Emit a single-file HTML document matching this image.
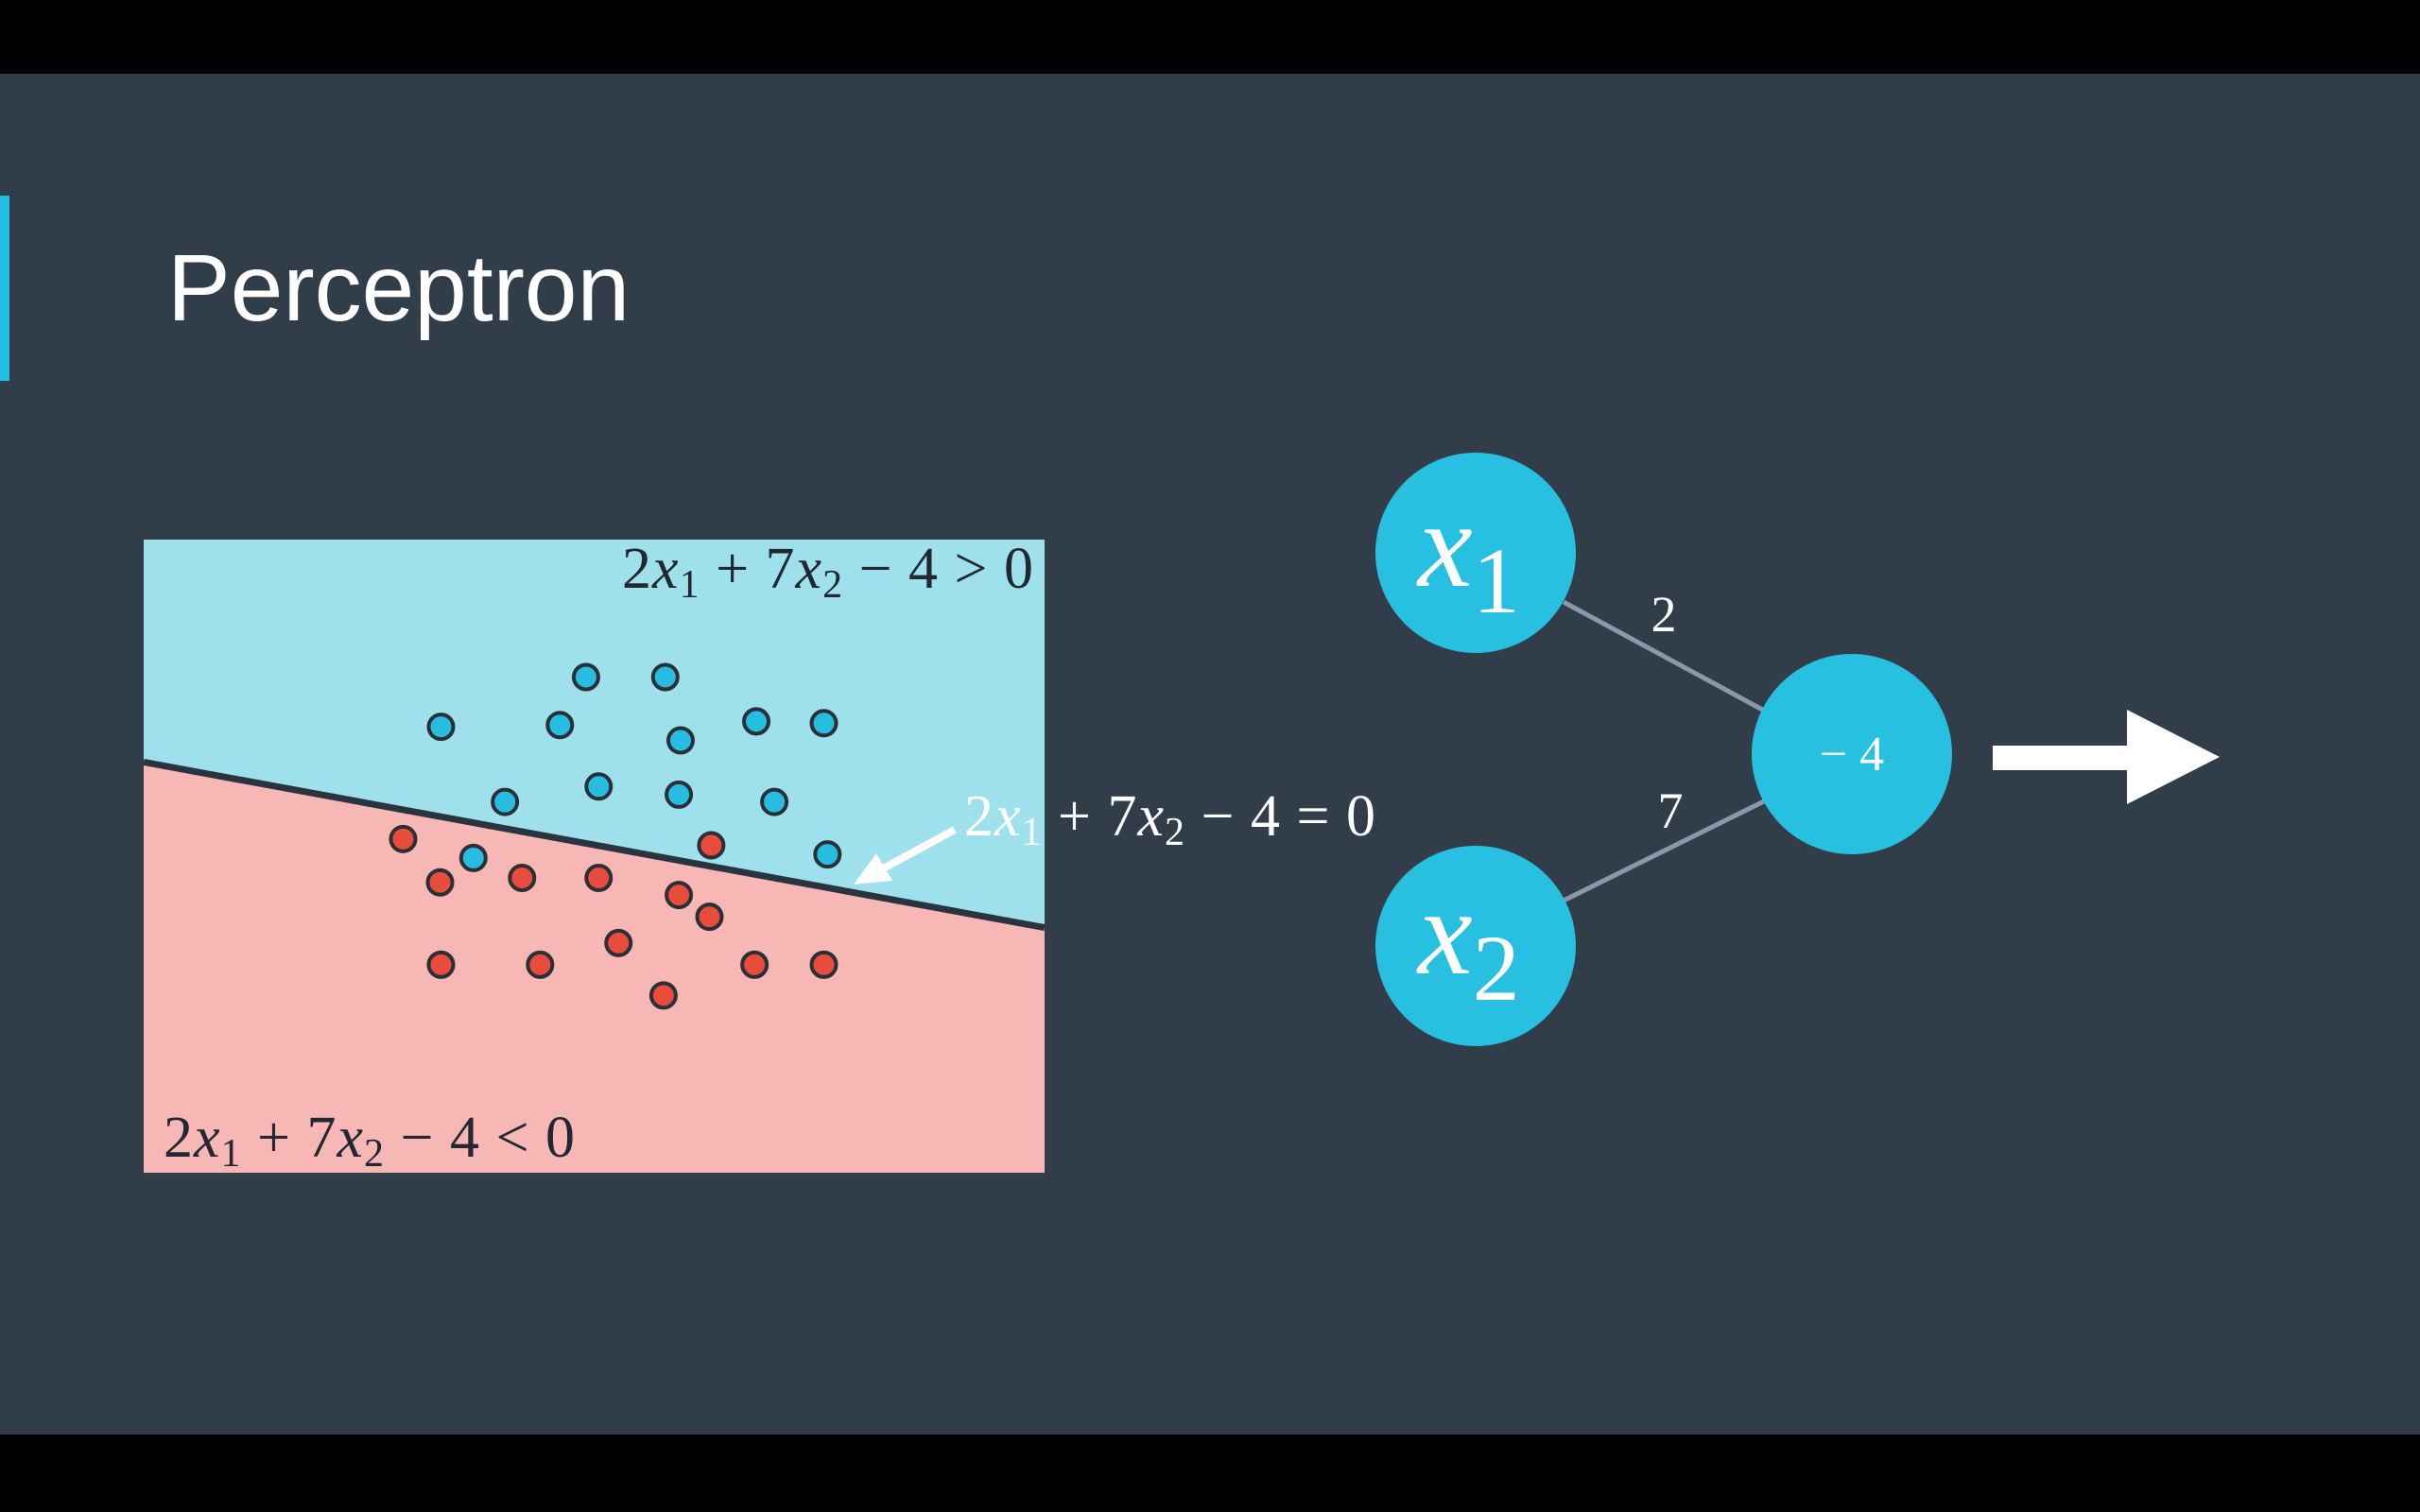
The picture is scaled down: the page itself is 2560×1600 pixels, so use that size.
<!DOCTYPE html>
<html><head><meta charset="utf-8"><style>
html,body{margin:0;padding:0;background:#000;}
svg{display:block;}
</style></head><body>
<svg id="s" width="2560" height="1600" viewBox="0 0 2560 1600" xmlns="http://www.w3.org/2000/svg">
<rect x="0" y="0" width="2560" height="1600" fill="#000"/>
<rect x="0" y="78" width="2560" height="1440" fill="#323d4a"/>
<rect x="0" y="207" width="10" height="196" fill="#22bde0"/>
<text x="177" y="339" font-family="Liberation Sans, sans-serif" font-size="100" fill="#ffffff">Perceptron</text>
<g id="chart"></g>
<g>
<line x1="1654" y1="637" x2="1870" y2="754" stroke="#8a99aa" stroke-width="5"/>
<line x1="1654" y1="953" x2="1870" y2="846" stroke="#8a99aa" stroke-width="5"/>
<circle cx="1561" cy="585" r="106" fill="#27c0e0"/>
<circle cx="1561" cy="1001" r="106" fill="#27c0e0"/>
<circle cx="1959" cy="798" r="106" fill="#27c0e0"/>
<text x="1500" y="620" font-family="Liberation Serif, serif" font-style="italic" font-size="130" fill="#fff">x<tspan font-style="normal" font-size="100" dy="28">1</tspan></text>
<text x="1500" y="1030" font-family="Liberation Serif, serif" font-style="italic" font-size="130" fill="#fff">x<tspan font-style="normal" font-size="100" dy="28">2</tspan></text>
<text x="1959" y="815" text-anchor="middle" font-family="Liberation Serif, serif" font-size="52" fill="#fff">− 4</text>
<text x="1760" y="668" text-anchor="middle" font-family="Liberation Serif, serif" font-size="54" fill="#fff">2</text>
<text x="1767" y="876" text-anchor="middle" font-family="Liberation Serif, serif" font-size="54" fill="#fff">7</text>
<polygon points="2108,789 2250,789 2250,751 2348,801 2250,851 2250,815 2108,815" fill="#fff"/>
</g>
</svg>
<script>
var blueX=[4.91,5.79,3.30,4.62,5.96,6.80,7.55,4.01,5.05,5.94,7.00,3.66,7.59];
var blueY=[5.48,5.48,4.93,4.95,4.78,4.99,4.97,4.10,4.27,4.18,4.10,3.48,3.52];
var redX=[2.88,6.30,3.29,4.20,5.05,5.94,6.28,5.27,3.30,4.40,6.78,7.55,5.77];
var redY=[3.69,3.62,3.21,3.26,3.26,3.07,2.83,2.54,2.30,2.30,2.30,2.30,1.96];
var lineW=[2,7];
var lineB=-4;
var lineLeftY=4.54, lineRightY=2.71;
(function(){
var NS="http://www.w3.org/2000/svg";
var g=document.getElementById('chart');
var X0=152,X1=1105,Y0=571,Y1=1241;
function sx(v){return X0+v/10*(X1-X0);}
function sy(v){return Y1-v/7*(Y1-Y0);}
function mk(t,a){var e=document.createElementNS(NS,t);for(var k in a)e.setAttribute(k,a[k]);g.appendChild(e);return e;}
var bg=mk('rect',{x:X0,y:Y0,width:X1-X0,height:Y1-Y0,fill:'#9ee1ec'});


var neg=mk('polygon',{points:sx(0)+','+sy(lineLeftY)+' '+sx(10)+','+sy(lineRightY)+' '+X1+','+Y1+' '+X0+','+Y1,fill:'#f7b7b4'});


var ln=mk('line',{x1:sx(0),y1:sy(lineLeftY),x2:sx(10),y2:sy(lineRightY),stroke:'#2a3340','stroke-width':7});


for(var i=0;i<blueX.length;i++){
var c=mk('circle',{cx:sx(blueX[i]),cy:sy(blueY[i]),r:13,fill:'#27bde0',stroke:'#2a2f38','stroke-width':4});


}
for(var j=0;j<redX.length;j++){
var d=mk('circle',{cx:sx(redX[j]),cy:sy(redY[j]),r:13,fill:'#e84c3d',stroke:'#2a2f38','stroke-width':4});


}
function span(t,txt,attrs){var s=document.createElementNS(NS,'tspan');for(var k in attrs)s.setAttribute(k,attrs[k]);s.textContent=txt;t.appendChild(s);}
function eq(x,y,op,anchor,fill,name){
var t=mk('text',{x:x,y:y,'text-anchor':anchor,'font-family':'Liberation Serif, serif','font-size':62,'letter-spacing':1,fill:fill});
span(t,String(lineW[0]),{});
span(t,'x',{'font-style':'italic'});
span(t,'1',{'font-size':42,dy:10});
span(t,' + '+lineW[1],{dy:-10});
span(t,'x',{'font-style':'italic'});
span(t,'2',{'font-size':42,dy:10});
span(t,' \u2212 '+(-lineB)+' '+op+' 0',{dy:-10});


}
eq(1094,622,'>','end','#222831','positive-inequality-label');
eq(173,1224,'<','start','#222831','negative-inequality-label');
eq(1020,884,'=','start','#ffffff','boundary-equation-label');
var a=mk('line',{x1:1010,y1:878,x2:925,y2:924,stroke:'#fff','stroke-width':8});


var h=mk('polygon',{points:'903,936 927,903 944,932',fill:'#fff'});


})();
</script>
</body></html>
